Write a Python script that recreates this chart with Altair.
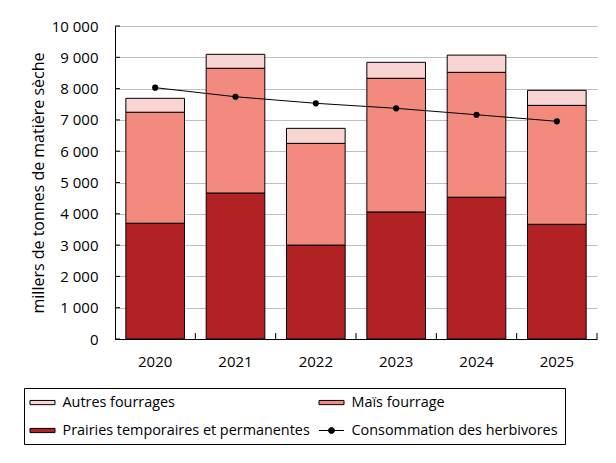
import altair as alt
import pandas as pd

years = ["2020", "2021", "2022", "2023", "2024", "2025"]
prairies = [3700, 4665, 3000, 4060, 4530, 3665]
mais = [3545, 3985, 3250, 4270, 3990, 3800]
autres = [445, 445, 480, 510, 550, 480]
consommation = [8030, 7740, 7530, 7370, 7165, 6955]
y_ticks = [0, 1000, 2000, 3000, 4000, 5000, 6000, 7000, 8000, 9000, 10000]

series = ["Autres fourrages", "Maïs fourrage",
          "Prairies temporaires et permanentes", "Consommation des herbivores"]
colors = ["#F8D5D2", "#F28B7D", "#B22224", "#000000"]

rows = []
for i, y in enumerate(years):
    rows.append({"annee": y, "serie": series[2], "valeur": prairies[i], "ordre": 0})
    rows.append({"annee": y, "serie": series[1], "valeur": mais[i], "ordre": 1})
    rows.append({"annee": y, "serie": series[0], "valeur": autres[i], "ordre": 2})
bars_df = pd.DataFrame(rows)
line_df = pd.DataFrame({"annee": years, "valeur": consommation})
ticks_df = pd.DataFrame({"v": y_ticks})
xt_df = pd.DataFrame({"annee": years})
leg_df = pd.DataFrame({"serie": series})

FONT = "Open Sans"
W, H = 482, 313
PAD_IN = 0.27
x_scale = alt.Scale(domain=years, paddingInner=PAD_IN, paddingOuter=PAD_IN / 2)
y_scale = alt.Scale(domain=[0, 10000])
half_gap = PAD_IN * (W / len(years)) / 2

x_axis = alt.Axis(title=None, labelAngle=0, tickSize=0, labelPadding=15,
                  domainColor="#000000", labelFont=FONT, labelFontSize=15,
                  labelColor="#000000")
y_axis = alt.Axis(title="millers de tonnes de matière sèche", values=y_ticks,
                  tickSize=0, labelPadding=17, domainColor="#000000",
                  gridColor="#BFBFBF", grid=True, labelOverlap=False,
                  labelExpr="replace(format(datum.value, ','), ',', '\u00a0')",
                  labelFont=FONT, labelFontSize=15, labelColor="#000000",
                  titleFont=FONT, titleFontSize=16, titleFontWeight="normal",
                  titleColor="#000000", titleX=-72, titleY=156.5,
                  titleAngle=270, titleAlign="center", titleBaseline="alphabetic")

rect_path = "M-1.786,-0.3H1.786V0.3H-1.786Z"
line_path = "M-1.786,0H1.786M0.43,0A0.43,0.43,0,1,1,-0.43,0A0.43,0.43,0,1,1,0.43,0Z"

legend = alt.Legend(
    title=None, orient="none", direction="horizontal", legendX=-91, legendY=362, columns=2,
    gridAlign="all", columnPadding=6, rowPadding=13, padding=7,
    strokeColor="#000000", symbolSize=196, symbolOffset=4, labelOffset=12.5,
    symbolStrokeWidth=1, symbolOpacity=1,
    labelFont=FONT, labelFontSize=14.4, labelColor="#000000", labelLimit=400,
)

fill_scale = alt.Scale(domain=series, range=colors)

bars = alt.Chart(bars_df).mark_bar(stroke="#000000", strokeWidth=1).encode(
    x=alt.X("annee:N", scale=x_scale, sort=years, axis=x_axis),
    y=alt.Y("valeur:Q", scale=y_scale, stack="zero", axis=y_axis),
    fill=alt.Fill("serie:N", scale=fill_scale, legend=legend),
    order=alt.Order("ordre:Q"),
)

legend_layer = alt.Chart(leg_df).transform_filter("false").mark_point(
    filled=True, stroke="#000000", strokeWidth=1, opacity=1
).encode(
    fill=alt.Fill("serie:N", scale=fill_scale, legend=legend),
    shape=alt.Shape("serie:N",
                    scale=alt.Scale(domain=series,
                                    range=[rect_path, rect_path, rect_path, line_path]),
                    legend=legend),
)

line = alt.Chart(line_df).mark_line(color="#000000", strokeWidth=1).encode(
    x=alt.X("annee:N", scale=x_scale, sort=years, axis=x_axis),
    y=alt.Y("valeur:Q", scale=y_scale, axis=y_axis),
)
points = alt.Chart(line_df).mark_point(filled=True, color="#000000", size=38, opacity=1).encode(
    x=alt.X("annee:N", scale=x_scale, sort=years, axis=x_axis),
    y=alt.Y("valeur:Q", scale=y_scale, axis=y_axis),
)

yticks = alt.Chart(ticks_df).mark_rule(color="#000000", strokeWidth=1).encode(
    y=alt.Y("v:Q", scale=y_scale, axis=y_axis),
    x=alt.value(0), x2=alt.value(5),
)
# ticks at the boundary between categories (end of the band + half the inner gap)
xticks = alt.Chart(xt_df).mark_rule(color="#000000", strokeWidth=1, xOffset=half_gap).encode(
    x=alt.X("annee:N", scale=x_scale, sort=years, bandPosition=1, axis=x_axis),
    y=alt.value(H), y2=alt.value(H - 6),
)

chart = alt.layer(bars, line, points, yticks, xticks, legend_layer).properties(
    width=W, height=H,
    autosize=alt.AutoSizeParams(type="none"),
    padding={"left": 115, "top": 26, "right": 19, "bottom": 124},
).configure_view(stroke=None).configure_axis(domainWidth=1)

chart.save("out.html", embed_options={"renderer": "svg", "actions": False})
